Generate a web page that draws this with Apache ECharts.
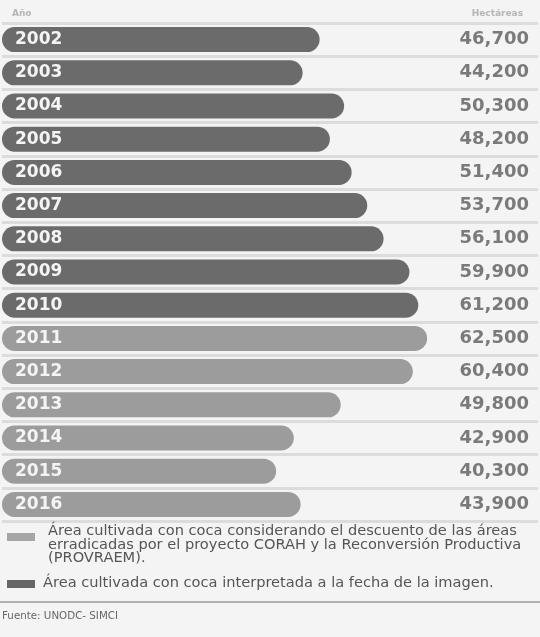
<!DOCTYPE html>
<html>
<head>
<meta charset="utf-8">
<script src="https://cdn.jsdelivr.net/npm/echarts@6/dist/echarts.min.js"></script>
<style>
html,body{margin:0;padding:0;background:#f4f4f4;}
#chart{width:540px;height:637px;}
</style>
</head>
<body>
<div id="chart"></div>
<script>
const years = ['2002','2003','2004','2005','2006','2007','2008','2009','2010','2011','2012','2013','2014','2015','2016'];
const interpretedValues = [46700, 44200, 50300, 48200, 51400, 53700, 56100, 59900, 61200, null, null, null, null, null, null];
const discountedValues = [null, null, null, null, null, null, null, null, null, 62500, 60400, 49800, 42900, 40300, 43900];
const totalLabels = ['46,700','44,200','50,300','48,200','51,400','53,700','56,100','59,900','61,200','62,500','60,400','49,800','42,900','40,300','43,900'];
const legendTexts = [
  'Área cultivada con coca considerando el descuento de las áreas\nerradicadas por el proyecto CORAH y la Reconversión Productiva\n(PROVRAEM).',
  'Área cultivada con coca interpretada a la fecha de la imagen.'
];
const headerLeft = 'Año';
const headerRight = 'Hectáreas';
const sourceText = 'Fuente: UNODC- SIMCI';

const chart = echarts.init(document.getElementById('chart'), null, {renderer: 'canvas'});
const barLabel = {
  show: true, position: 'insideLeft', distance: 13,
  formatter: p => p.name,
  color: '#f4f4f4', fontFamily: 'DejaVu Sans', fontWeight: 'bold', fontSize: 17
};
chart.setOption({
  backgroundColor: '#f4f4f4',
  animation: false,
  grid: {left: 2, right: 2, top: 23, bottom: 116, containLabel: false},
  xAxis: {type: 'value', min: 0, max: 78800, show: false},
  yAxis: [
    {
      type: 'category', data: years, inverse: true,
      axisLine: {show: false}, axisTick: {show: false}, axisLabel: {show: false},
      splitLine: {show: true, lineStyle: {color: '#dcdcdc', width: 3}}
    },
    {
      type: 'category', data: totalLabels, inverse: true, position: 'right',
      axisLine: {show: false}, axisTick: {show: false},
      axisLabel: {
        show: true, align: 'right', margin: -9,
        color: '#7a7a7a', fontFamily: 'DejaVu Sans', fontWeight: 'bold', fontSize: 18
      }
    }
  ],
  series: [
    {
      name: 'interpretada', type: 'bar', stack: 'a', data: interpretedValues,
      barWidth: 25, itemStyle: {color: '#6b6b6b', borderRadius: 12.5}, label: barLabel
    },
    {
      name: 'descuento', type: 'bar', stack: 'a', data: discountedValues,
      barWidth: 25, itemStyle: {color: '#9c9c9c', borderRadius: 12.5}, label: barLabel
    }
  ],
  graphic: [
    {type: 'text', z: 100, left: 12, top: 9, style: {text: headerLeft, fill: '#b5b5b5', font: 'bold 9px "DejaVu Sans"'}},
    {type: 'text', z: 100, right: 17, top: 9, style: {text: headerRight, fill: '#b5b5b5', font: 'bold 9px "DejaVu Sans"'}},
    {type: 'rect', z: 100, shape: {x: 7, y: 533, width: 28, height: 8}, style: {fill: '#a6a6a6'}},
    {type: 'text', z: 100, left: 48, top: 524, style: {text: legendTexts[0], fill: '#555', font: '14.6px "DejaVu Sans"', lineHeight: 13.5}},
    {type: 'rect', z: 100, shape: {x: 7, y: 580, width: 28, height: 8}, style: {fill: '#666'}},
    {type: 'text', z: 100, left: 43, top: 576, style: {text: legendTexts[1], fill: '#555', font: '14.6px "DejaVu Sans"'}},
    {type: 'line', z: 100, shape: {x1: 0, y1: 602, x2: 540, y2: 602}, style: {stroke: '#9a9a9a', lineWidth: 1.5}},
    {type: 'text', z: 100, left: 2, top: 611, style: {text: sourceText, fill: '#666', font: '10.3px "DejaVu Sans"'}}
  ]
});
</script>
</body>
</html>
